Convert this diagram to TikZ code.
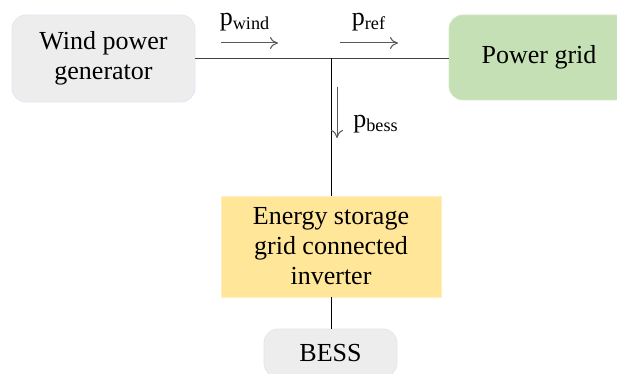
\documentclass[tikz,border=0pt]{standalone}
\usepackage{fontspec}
\setmainfont{Liberation Serif}
\usepackage{xcolor}
\usetikzlibrary{positioning,arrows.meta}

\definecolor{boxgray}{HTML}{EDEDED}
\definecolor{edgeblue}{HTML}{DEE7F3}
\definecolor{gridgreen}{HTML}{C5E0B4}
\definecolor{gridedge}{HTML}{D3E8C7}
\definecolor{invyellow}{HTML}{FFE699}
\definecolor{invedge}{HTML}{FFEFC0}
\definecolor{linegray}{HTML}{404040}
\definecolor{arrowgray}{HTML}{595959}

\begin{document}
\begin{tikzpicture}[x=0.5pt, y=-0.5pt,
  bloc/.style={
    draw=edgeblue, rounded corners=7pt,
    align=center, inner sep=0pt,
    font=\fontsize{13}{15}\selectfont
  },
  lab/.style={font=\fontsize{13}{15}\selectfont, inner sep=0pt},
  fl/.style={-{To[length=4pt,width=6pt]}, draw=arrowgray, line width=0.5pt},
  lien/.style={draw=linegray, line width=0.6pt}
]
  \clip (0,0) rectangle (617,374);

  % --- Blocs ---
  \node[bloc, fill=boxgray, minimum width=91.5pt, minimum height=43.5pt]
    (wind) at (103.5,58.5) {Wind power\\generator};

  \node[bloc, fill=gridgreen, draw=gridedge, minimum width=90pt, minimum height=42.5pt]
    (grid) at (539,57.5) {Power grid};

  \node[bloc, rounded corners=0pt, fill=invyellow, draw=invedge,
        minimum width=110pt, minimum height=50.5pt]
    (inv) at (331,246.5) {Energy storage\\grid connected\\inverter};

  \node[bloc, fill=boxgray, minimum width=66.5pt, minimum height=24pt]
    (bess) at (330.5,353) {BESS};

  % --- Liaisons ---
  \coordinate (jn) at (331,58.5);
  \draw[lien] (wind.east) -- (wind.east -| grid.west);
  \draw[lien, draw=black, line width=0.5pt] (jn) -- (inv.north -| jn);
  \draw[lien, draw=black, line width=0.5pt] (inv.south -| jn) -- (bess.north -| jn);

  % --- Flux de puissance ---
  \coordinate (pw) at (221,43);
  \draw[fl] (pw) -- ++(57,0);
  \node[lab] (pwind) at (245,22) {p\textsubscript{wind}};

  \coordinate (pr) at (340,43);
  \draw[fl] (pr) -- ++(58,0);
  \node[lab] (pref) at (369,22) {p\textsubscript{ref}};

  \coordinate (pb) at (337,87);
  \draw[fl] (pb) -- ++(0,51);
  \node[lab] (pbess) at (376,124) {p\textsubscript{bess}};

\end{tikzpicture}
\end{document}
